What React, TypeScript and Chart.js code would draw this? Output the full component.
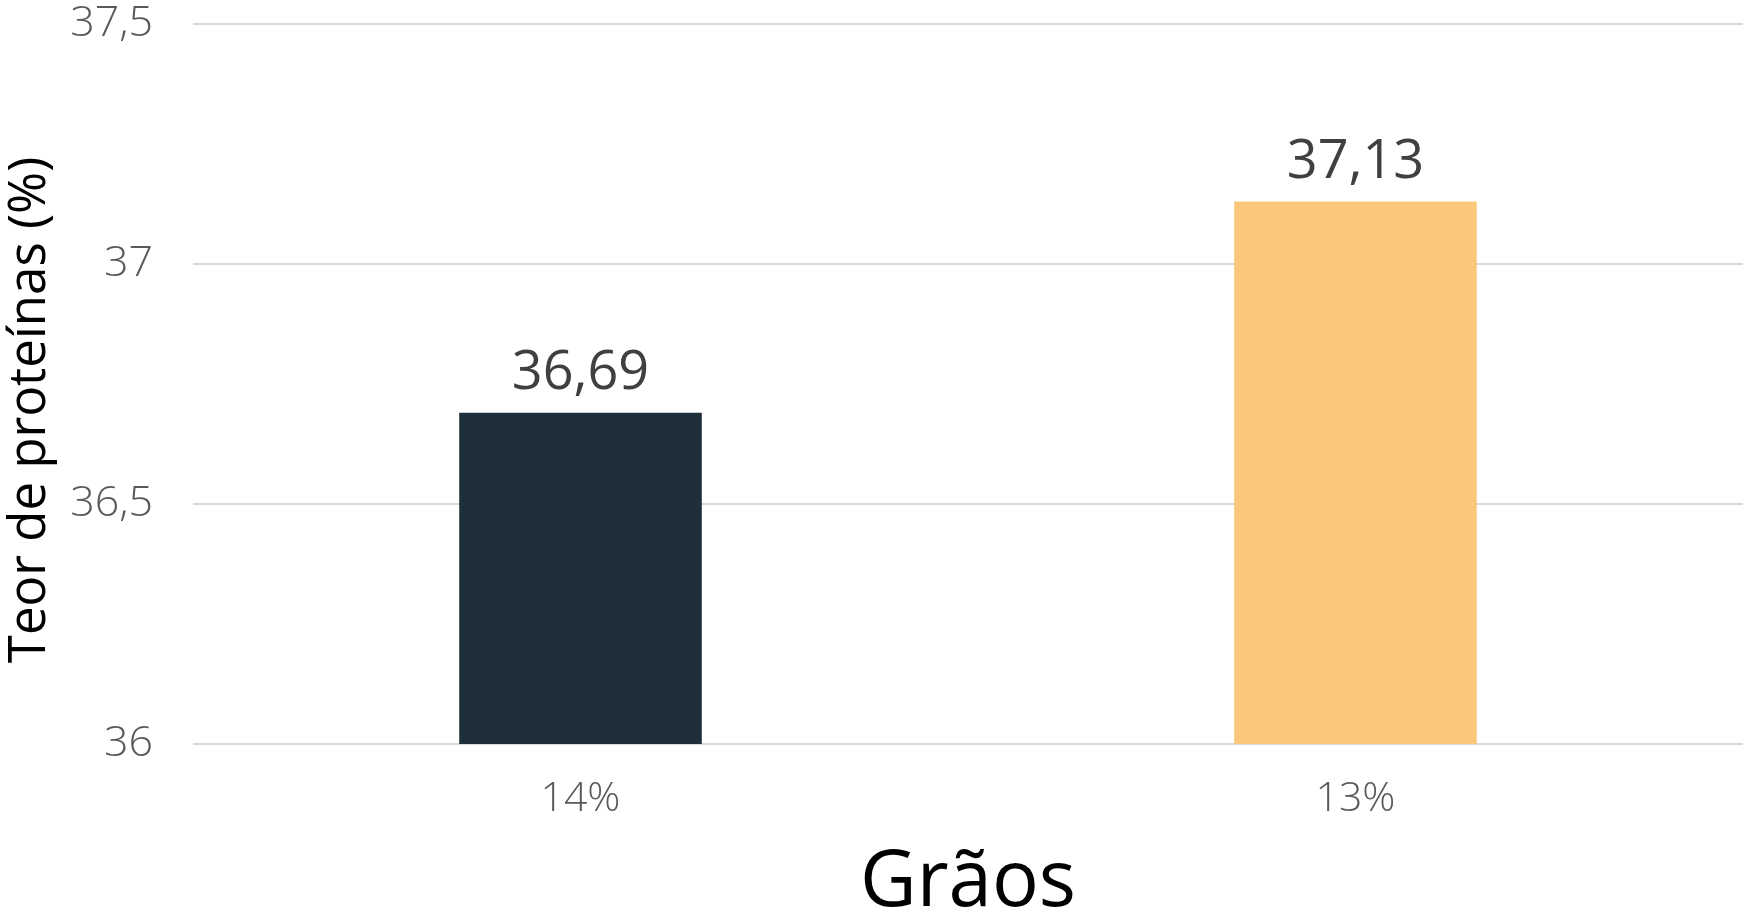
import React, { useEffect, useRef } from "react";
import { Chart, registerables } from "chart.js";

Chart.register(...registerables);

const categories = ["14%", "13%"];
const values = [36.69, 37.13];
const barColors = ["#1E2F3A", "#FAC77D"];
const yMin = 36;
const yMax = 37.5;
const yStep = 0.5;
const xTitle = "Grãos";
const yTitle = "Teor de proteínas (%)";

const FONT = "'Open Sans', 'Noto Sans', sans-serif";
const fmt = (v: number) => String(v).replace(".", ",");

const valueLabels = {
  id: "valueLabels",
  afterDatasetsDraw(chart: any) {
    const ctx = chart.ctx;
    const meta = chart.getDatasetMeta(0);
    ctx.save();
    ctx.font = `400 54px ${FONT}`;
    ctx.fillStyle = "#404040";
    ctx.textAlign = "center";
    ctx.textBaseline = "alphabetic";
    meta.data.forEach((bar: any, i: number) => {
      ctx.fillText(fmt(values[i]), bar.x, bar.y - 24);
    });
    ctx.restore();
  },
};

const yTitlePlugin = {
  id: "yTitlePlugin",
  afterDraw(chart: any) {
    const ctx = chart.ctx;
    const area = chart.chartArea;
    ctx.save();
    ctx.translate(30, (area.top + area.bottom) / 2 + 26);
    ctx.rotate(-Math.PI / 2);
    ctx.font = `400 51px ${FONT}`;
    ctx.fillStyle = "#000000";
    ctx.textAlign = "center";
    ctx.textBaseline = "middle";
    ctx.fillText(yTitle, 0, 0);
    ctx.restore();
  },
};

export default function App() {
  const ref = useRef<HTMLCanvasElement | null>(null);
  useEffect(() => {
    if (!ref.current) return;
    const chart = new Chart(ref.current, {
      type: "bar",
      data: {
        labels: categories,
        datasets: [
          {
            data: values,
            backgroundColor: barColors,
            borderWidth: 0,
            barPercentage: 0.313,
            categoryPercentage: 1,
          },
        ],
      },
      options: {
        animation: false,
        responsive: false,
        maintainAspectRatio: false,
        layout: { padding: { top: 24, right: 3, bottom: 0, left: 0 } },
        plugins: {
          legend: { display: false },
          tooltip: { enabled: false },
        },
        scales: {
          x: {
            offset: true,
            grid: { display: false, drawTicks: false },
            border: { display: false },
            ticks: {
              color: "#595959",
              padding: 31,
              font: { family: FONT, size: 41, weight: "300", lineHeight: 1.2 },
            },
            title: {
              display: true,
              text: xTitle,
              color: "#000000",
              padding: { top: 0, bottom: -9 },
              font: { family: FONT, size: 78, weight: "400", lineHeight: 1 },
            },
            afterFit: (s: any) => {
              s.height = 170;
            },
          },
          y: {
            min: yMin,
            max: yMax,
            grid: { color: "#D9D9D9", lineWidth: 2, drawTicks: false },
            border: { display: false },
            ticks: {
              stepSize: yStep,
              color: "#595959",
              padding: 40,
              font: { family: FONT, size: 43, weight: "300", lineHeight: 1.12 },
              callback: (v: any) => fmt(Number(v)),
            },
            title: { display: false },
            afterFit: (s: any) => {
              s.width = 193;
              s.paddingTop = 0;
              s.paddingBottom = 0;
            },
          },
        },
      },
      plugins: [valueLabels, yTitlePlugin],
    });
    return () => chart.destroy();
  }, []);
  return (
    <div style={{ position: "absolute", left: 0, top: 0, width: 1746, height: 914, background: "#fff" }}>
      <canvas ref={ref} width={1746} height={914} style={{ width: 1746, height: 914 }} />
    </div>
  );
}
